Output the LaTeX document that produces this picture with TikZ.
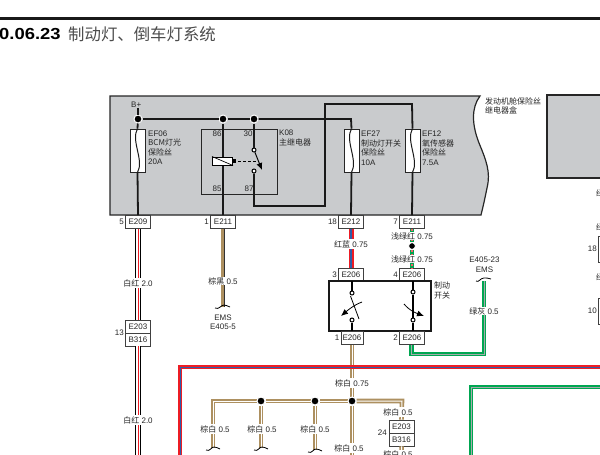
\documentclass[tikz,border=0pt]{standalone}
\usepackage{fontspec}
\setmainfont{Liberation Sans}
\newfontfamily\cjk{Noto Sans CJK SC}
\newfontfamily\titlefont[FakeStretch=1.15]{Liberation Sans}
\newcommand{\zh}[1]{{\cjk #1}}
\usetikzlibrary{arrows.meta, calc}
\definecolor{boxgray}{HTML}{C9CBCD}
\definecolor{wirebrown}{HTML}{AD9060}
\definecolor{wirered}{HTML}{ED1C24}
\definecolor{wireblue}{HTML}{2E5FA8}
\definecolor{wiregreen}{HTML}{00A651}
\definecolor{wiregray}{HTML}{A7A9AC}
\tikzset{
  every node/.style={align=center, font=\fontsize{8}{9.5}\selectfont, text=black!85}
}

\begin{document}
\begin{tikzpicture}[x=1pt, y=-1pt]
\tikzstyle{conn}=[rectangle, draw=black!75, thick, fill=white, minimum width=25pt,
  minimum height=13pt, inner sep=0pt]
\tikzstyle{fuse}=[rectangle, draw=black!85, thick, fill=white, minimum width=15pt,
  minimum height=43pt, inner sep=0pt]
\tikzstyle{joint}=[circle, fill=black, draw=white, line width=1pt, minimum size=8pt,
  inner sep=0pt]
\tikzstyle{pin}=[circle, fill=white, draw=black, line width=1pt, minimum size=4pt,
  inner sep=0pt]
\tikzstyle{txt}=[inner sep=0pt, anchor=west, align=left]
\tikzstyle{wlabel}=[fill=white, inner sep=1pt]

\tikzstyle{line}=[draw=black!90, line width=1.8pt]
\tikzstyle{thickline}=[draw=black, line width=2.4pt]
\tikzstyle{w_whitered}=[preaction={draw=black, line width=5.4pt},
  preaction={draw=white, line width=3.4pt}, draw=wirered, line width=0.7pt]
\tikzstyle{w_brownblack}=[preaction={draw=wirebrown, line width=4.4pt},
  draw=black!80, line width=0.8pt, transform canvas={xshift=1pt}]
\tikzstyle{w_redblue}=[draw=wirered, double=wireblue, double distance=1.6pt,
  line width=1.7pt]
\tikzstyle{w_greenred}=[preaction={draw=wiregreen, line width=3.4pt},
  draw=wirered!70!white, line width=1.4pt, dash pattern=on 2pt off 1.5pt]
\tikzstyle{w_browns}=[draw=wirebrown, double=white,
  double distance=1pt, line width=1.8pt]
\tikzstyle{w_green}=[draw=wiregreen, double=wiregray, double distance=0.8pt,
  line width=1.8pt]
\tikzstyle{w_red}=[draw=wirered, double=wireblue, double distance=0.5pt,
  line width=1.9pt]
\tikzstyle{socket}=[draw=black, line width=0.8pt]

\useasboundingbox (0,0) rectangle (600,455);

% title
\coordinate (barl) at (0,18.5);
\coordinate (barr) at (600,18.5);
\draw[draw=black!90, line width=3pt](barl) -- (barr);
\node[txt, font=\fontsize{16}{16}\selectfont\titlefont\bfseries, text=black](title) at (-1,34){0.06.23};
\node[txt, font=\fontsize{16.4}{16}\selectfont\cjk, text=black!70](title2) at (68,34){制动灯、倒车灯系统};

% fuse and relay box
\path[fill=boxgray, draw=black!85, line width=1.2pt](110,96) -- (480,96)
  .. controls (471,108) and (472,125) .. (479,143)
  .. controls (486,160) and (491,172) .. (487,188)
  .. controls (485,198) and (483,207) .. (481,215) -- (110,215) -- cycle;
\path[fill=boxgray, draw=black!85, line width=1.2pt](610,95) -- (547,95) -- (547,178) -- (610,178);

\node[txt](bplus) at (131,105){B+};
\node[txt](boxtext) at (485,106){\zh{发动机舱保险丝}\\\zh{继电器盒}};

% connectors under the box
\node[conn](e209) at (138,222){E209};
\node[conn](e211a) at (223,222){E211};
\node[conn](e212) at (351,222){E212};
\node[conn](e211b) at (412,222){E211};
\node[anchor=east, inner sep=1pt](n5) at (e209.west){5};
\node[anchor=east, inner sep=1pt](n1) at (e211a.west){1};
\node[anchor=east, inner sep=1pt](n18) at (e212.west){18};
\node[anchor=east, inner sep=1pt](n7) at (e211b.west){7};

% top fuses
\node[fuse](ef06) at (137.5,150.5){};
\node[fuse](ef27) at (351.5,150.5){};
\node[fuse](ef12) at (412.5,150.5){};
\foreach \f in {ef06, ef27, ef12} {
  \draw[line, line width=1pt](\f.north) .. controls ($(\f.center)+(-7,-10)$) and ($(\f.center)+(7,10)$) .. (\f.south);
}
\node[txt](ef06t) at (148,147.5){EF06\\\zh{BCM灯光}\\\zh{保险丝}\\20A};
\node[txt](ef27t) at (361,148){EF27\\\zh{制动灯开关}\\\zh{保险丝}\\10A};
\node[txt](ef12t) at (422,148){EF12\\\zh{氧传感器}\\\zh{保险丝}\\7.5A};

% relay
\node[rectangle, draw=black!85, line width=1pt, minimum width=76pt, minimum height=65pt,
  inner sep=0pt](k08) at (239,161.5){};
\node[txt](k08t) at (279,138){K08\\\zh{主继电器}};
\node[inner sep=0pt](p86) at (217,134){86};
\node[inner sep=0pt](p30) at (248,134){30};
\node[inner sep=0pt](p85) at (217,189){85};
\node[inner sep=0pt](p87) at (249,189){87};

% bus
\node[joint](d1) at (138,119){};
\node[joint](d2) at (223,119){};
\node[joint](d3) at (254,119){};
\coordinate (c1) at (351,119);
\coordinate (c2) at (254,206);
\coordinate (c3) at (325,206);
\coordinate (c4) at (325,104);
\coordinate (c5) at (412,104);
\node[pin](sw1) at (254,150){};
\node[pin](sw2) at (254,171){};
\draw[line](bplus.south -| d1) -- (d1);
\draw[line](d1) -- (d2);
\draw[line](d2) -- (d3);
\draw[line](d3) -- (c1) -- (ef27.north);
\draw[line](d1) -- (ef06.north);
\draw[line](ef06.south) -- (e209.north);
\draw[line](d2) -- (e211a.north);
\draw[line](d3) -- (sw1);
\draw[line](sw2) -- (c2) -- (c3) -- (c4) -- (c5) -- (ef12.north);
\draw[line](ef27.south) -- (e212.north);
\draw[line](ef12.south) -- (e211b.north);
\node[rectangle, draw=black, line width=1pt, fill=white, minimum width=20pt, minimum height=8pt,
  inner sep=0pt](coil) at (222.5,161){};
\draw[draw=black, line width=0.7pt](coil.north west) -- (coil.south east);
\coordinate (blade) at (262,170);
\coordinate (act) at (258,161);
\draw[-{Latex[length=7pt,width=6pt]}, draw=black, line width=1pt](sw1) -- (blade);
\draw[densely dashed, draw=black, line width=1pt](coil.east) -- (act);
\fill[black] ($(coil.east)+(0,-2)$) rectangle ($(coil.east)+(2.5,2)$);

% left wire
\node[conn](e203a) at (138,326.5){E203};
\node[conn](b316a) at (138,339.5){B316};
\node[anchor=east, inner sep=1pt](n13) at (125,333){13};
\coordinate (endw1) at (138,456);
\draw[w_whitered](e209.south) -- (e203a.north);
\draw[w_whitered](b316a.south) -- (endw1);
\node[wlabel](lw1) at (138,283){\zh{白红} 2.0};
\node[wlabel](lw2) at (138,420){\zh{白红} 2.0};

% ems wire
\coordinate (sk1) at (223,307);
\draw[w_brownblack](e211a.south) -- (sk1);
\node[wlabel, fill=white, inner sep=0.5pt](lw3) at (223,281){\zh{棕黑} 0.5};
\draw[socket](215,308) .. controls (219,310) and (221,305) .. (224,305) .. controls (226,305) and (227,306) .. (230,307);
\node[inner sep=0pt](ems1) at (223,322){EMS\\E405-5};

% red blue wire
\node[conn](e206a) at (351,275){E206};
\node[anchor=east, inner sep=1pt](n3) at (e206a.west){3};
\draw[w_redblue](e212.south) -- (e206a.north);
\node[wlabel](lw4) at (351,244){\zh{红蓝} 0.75};

% green red wire
\node[conn](e206b) at (412,275){E206};
\node[anchor=east, inner sep=1pt](n4) at (e206b.west){4};
\node[joint, minimum size=7pt](d4) at (412,246){};
\draw[w_greenred](e211b.south) -- (d4);
\draw[w_greenred](d4) -- (e206b.north);
\node[wlabel, fill=white, inner sep=0.5pt](lw5) at (412,236){\zh{浅绿红} 0.75};
\node[wlabel, fill=white, inner sep=0.5pt](lw6) at (412,259){\zh{浅绿红} 0.75};

% stop switch
\node[rectangle, draw=black!90, line width=1.2pt, fill=white, minimum width=102pt, minimum height=50pt,
  inner sep=0pt](brk) at (380,306){};
\node[txt](brkt) at (434,290.5){\zh{制动}\\\zh{开关}};
\node[pin](s1) at (352,293){};
\node[pin](s2) at (352,320){};
\node[pin](s3) at (413,292){};
\node[pin](s4) at (413,320){};
\coordinate (s1top) at (352,281);
\coordinate (s2bot) at (352,331);
\coordinate (s3top) at (413,281);
\coordinate (s4bot) at (413,331);
\draw[thickline](s1top) -- (s1);
\draw[thickline](s2) -- (s2bot);
\draw[thickline](s3top) -- (s3);
\draw[thickline](s3) -- (s4);
\draw[thickline](s4) -- (s4bot);
\coordinate (b1a) at (350.5,296);
\coordinate (b1b) at (359,319);
\draw[draw=black, line width=0.8pt](b1a) -- (b1b);
\coordinate (a1a) at (362,302);
\coordinate (a1b) at (341,316);
\coordinate (a2a) at (404,304);
\coordinate (a2b) at (424,316);
\draw[-{Latex[length=7pt,width=6pt]}, draw=black, line width=0.8pt](a1a) .. controls (354,305) and (348,310) .. (a1b);
\draw[-{Latex[length=7pt,width=6pt]}, draw=black, line width=0.8pt](a2a) .. controls (410,311) and (416,313) .. (a2b);

\node[conn, minimum width=22pt](e206c) at (352,338){E206};
\node[conn](e206d) at (412,338){E206};
\node[anchor=east, inner sep=1pt, text=black!85](n1b) at (e206c.west){1};
\node[anchor=east, inner sep=1pt](n2) at (e206d.west){2};

% brown net
\node[joint](j1) at (261,401){};
\node[joint](j2) at (315,401){};
\node[joint](j3) at (352,401){};
\coordinate (bl) at (213,401);
\coordinate (br) at (402,401);
\node[conn](e203b) at (401.5,426.5){E203};
\node[conn](b316b) at (401.5,439.5){B316};
\node[anchor=east, inner sep=1pt](n24) at (388,433){24};
\coordinate (bt1) at (213,448);
\coordinate (bt2) at (261,448);
\coordinate (bt3) at (315,450);
\coordinate (bt4) at (352,456);
\coordinate (bt5) at (402,456);
\draw[w_browns](e206c.south) -- (j3);
\draw[w_browns](bt1) -- (bl) -- (j1);
\draw[w_browns](j1) -- (j2);
\draw[w_browns](j2) -- (j3);
\draw[w_browns](j3) -- (br) -- (e203b.north);
\draw[w_browns](j1) -- (bt2);
\draw[w_browns](j2) -- (bt3);
\draw[w_browns](j3) -- (bt4);
\draw[w_browns](b316b.south) -- (bt5);
\foreach \s in {bt1, bt2, bt3} {
  \draw[socket]($(\s)+(-7,2)$) .. controls ($(\s)+(-3,4)$) and ($(\s)+(-2,-1)$) .. ($(\s)+(1,-1)$) .. controls ($(\s)+(3,-1)$) and ($(\s)+(5,0)$) .. ($(\s)+(7,1)$);
}
\node[joint](j1b) at (j1){};
\node[joint](j2b) at (j2){};
\node[joint](j3b) at (j3){};
\node[wlabel](lw7) at (352,383){\zh{棕白} 0.75};
\node[wlabel](lw8) at (215,429){\zh{棕白} 0.5};
\node[wlabel](lw9) at (262,429){\zh{棕白} 0.5};
\node[wlabel](lw10) at (315,429){\zh{棕白} 0.5};
\node[wlabel](lw11) at (349,448){\zh{棕白} 0.5};
\node[wlabel](lw12) at (398,412){\zh{棕白} 0.5};
\node[wlabel, anchor=north](lw13) at (398,450){\zh{棕白} 0.5};

% green wire
\coordinate (g1) at (411.5,354);
\coordinate (g2) at (484,354);
\coordinate (g3) at (484,281);
\draw[w_green](e206d.south -| g1) -- (g1) -- (g2) -- (g3);
\node[wlabel, inner sep=0.5pt](lw14) at (484,311){\zh{绿灰} 0.5};
\draw[socket](476,281) .. controls (479,283) and (480,278) .. (484,278) .. controls (487,277) and (488,279) .. (491,279);
\node[inner sep=0pt](ems2) at (484.5,264.5){E405-23\\EMS};

% red and green lines
\coordinate (r1) at (180,456);
\coordinate (r2) at (180,367);
\coordinate (r3) at (601,367);
\draw[w_red](r1) -- (r2) -- (r3);
\coordinate (g4) at (471,456);
\coordinate (g5) at (471,387);
\coordinate (g6) at (601,387);
\draw[w_green](g4) -- (g5) -- (g6);

% cut off at the right
\node[txt](rt1) at (596,193){\zh{绿}};
\node[txt](rt2) at (596,227){\zh{绿}};
\node[txt](rt3) at (596,277){\zh{绿}};
\node[anchor=east, inner sep=1pt](n18b) at (598,249){18};
\node[anchor=east, inner sep=1pt](n10) at (598,311){10};
\node[conn, minimum height=26pt](rb1) at (611,249){};
\node[conn, minimum height=26pt](rb2) at (611,311){};
\end{tikzpicture}
\end{document}
